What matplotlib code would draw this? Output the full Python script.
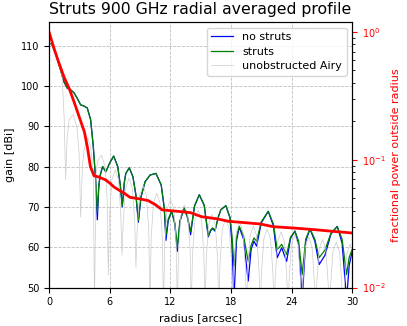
import matplotlib
matplotlib.use('Agg')
import matplotlib.pyplot as plt

# radial profile with and without struts (gain in dBi)
radius = [0.0, 0.3, 0.66, 1.15, 1.48, 1.81, 2.15, 2.47, 2.8, 3.13, 3.46, 3.79,
          4.12, 4.38, 4.62, 4.78, 4.92, 5.04, 5.3, 5.62, 6.03, 6.4, 6.8, 7.05,
          7.25, 7.45, 7.6, 7.94, 8.3, 8.6, 8.84, 9.1, 9.5, 10.0, 10.58, 11.1,
          11.4, 11.57, 11.8, 12.13, 12.45, 12.69, 12.95, 13.35, 13.7, 14.01,
          14.4, 14.87, 15.35, 15.76, 16.0, 16.19, 16.42, 16.75, 17.0, 17.5,
          17.9, 18.1, 18.3, 18.55, 18.82, 19.25, 19.71, 20.0, 20.28, 20.54,
          21.0, 21.69, 22.2, 22.58, 23.02, 23.51, 23.9, 24.33, 24.7, 25.05,
          25.4, 25.82, 26.3, 26.73, 27.3, 27.9, 28.52, 29.0, 29.44, 29.7, 30.0]
gain_struts = [110.5, 110.2, 108.0, 103.9, 101.0, 99.4, 99.0, 98.3, 96.9, 95.3,
               95.0, 94.5, 91.6, 85.0, 76.8, 68.7, 75.0, 77.6, 80.0, 78.7, 81.0,
               82.6, 80.0, 75.5, 70.3, 76.0, 78.3, 79.7, 77.5, 73.0, 66.6, 72.5,
               76.2, 77.9, 78.3, 75.5, 70.0, 63.0, 67.0, 68.9, 66.0, 59.9, 66.5,
               69.75, 67.5, 63.9, 70.3, 73.0, 70.5, 62.9, 64.3, 64.8, 64.2, 67.5,
               69.3, 70.3, 67.5, 63.0, 55.3, 62.5, 65.2, 62.8, 56.5, 60.5, 62.3,
               61.5, 66.3, 68.9, 65.8, 59.4, 60.7, 58.2, 62.5, 64.0, 61.5, 53.2,
               62.0, 64.55, 62.0, 57.4, 59.3, 63.5, 65.15, 62.0, 53.2, 57.5, 59.5]
gain_nostruts = [110.5, 110.2, 108.0, 103.9, 101.0, 99.4, 99.0, 98.3, 96.9, 95.3,
                 95.0, 94.5, 91.6, 85.0, 76.5, 66.8, 74.8, 77.6, 80.0, 78.7, 81.0,
                 82.6, 80.0, 75.4, 70.0, 76.0, 78.3, 79.7, 77.5, 72.8, 66.2, 72.4,
                 76.2, 77.9, 78.3, 75.4, 69.6, 61.7, 66.6, 68.9, 65.8, 59.0, 66.3,
                 69.75, 67.4, 63.1, 70.2, 73.0, 70.4, 62.6, 64.1, 64.6, 64.0, 67.4,
                 69.3, 70.3, 67.3, 61.0, 47.0, 61.5, 65.0, 62.0, 51.6, 59.5, 61.5,
                 60.25, 66.0, 68.9, 65.3, 57.4, 59.85, 56.5, 62.2, 64.0, 60.5, 47.0,
                 61.5, 64.5, 61.5, 55.7, 58.0, 63.3, 65.15, 61.0, 47.0, 55.5, 59.0]

# unobstructed Airy pattern
radius_airy = [0.0, 0.35, 0.7, 1.0, 1.3, 1.5, 1.65, 1.8, 2.0, 2.39, 2.75, 2.98,
               3.13, 3.3, 3.5, 3.82, 4.12, 4.38, 4.5, 4.65, 4.85, 5.19, 5.55, 5.75,
               5.87, 5.99, 6.22, 6.55, 6.88, 7.10,
               7.22, 7.34, 7.57, 7.91, 8.25, 8.48,
               8.60, 8.72, 8.95, 9.30, 9.64, 9.87,
               9.99, 10.11, 10.34, 10.66, 10.99, 11.21,
               11.33, 11.45, 11.68, 12.02, 12.36, 12.58,
               12.70, 12.82, 13.05, 13.39, 13.73, 13.96,
               14.08, 14.20, 14.43, 14.76, 15.09, 15.32,
               15.44, 15.56, 15.79, 16.12, 16.45, 16.68,
               16.80, 16.92, 17.15, 17.49, 17.83, 18.06,
               18.18, 18.30, 18.53, 18.86, 19.19, 19.42,
               19.54, 19.66, 19.89, 20.22, 20.55, 20.78,
               20.90, 21.02, 21.25, 21.59, 21.93, 22.15,
               22.27, 22.39, 22.62, 22.96, 23.30, 23.52,
               23.64, 23.76, 23.99, 24.32, 24.65, 24.88,
               25.00, 25.12, 25.35, 25.69, 26.03, 26.25,
               26.37, 26.49, 26.72, 27.06, 27.40, 27.62,
               27.74, 27.86, 28.09, 28.42, 28.75, 28.98,
               29.10, 29.22, 29.45, 29.79, 30.13, 30.36, 30.47]
gain_airy = [110.5, 110.0, 107.8, 105.0, 102.5, 92.0, 76.8, 87.5, 91.6, 92.9, 90.0, 83.4,
             67.5, 80.0, 84.5, 87.1, 85.0, 78.5, 45.0, 78.0, 81.7, 82.8, 80.1, 72.0,
             53.0, 68.2, 76.7, 79.2, 76.7, 68.2,
             58.0, 66.1, 74.6, 77.1, 74.6, 66.1,
             55.0, 64.3, 72.8, 75.3, 72.8, 64.3,
             45.0, 62.4, 70.9, 73.4, 70.9, 62.4,
             45.0, 60.9, 69.4, 71.9, 69.4, 60.9,
             45.0, 59.5, 68.0, 70.5, 68.0, 59.5,
             45.0, 58.2, 66.7, 69.2, 66.7, 58.2,
             45.0, 57.1, 65.6, 68.1, 65.6, 57.1,
             45.0, 56.1, 64.6, 67.1, 64.6, 56.1,
             45.0, 55.2, 63.7, 66.2, 63.7, 55.2,
             45.0, 54.3, 62.8, 65.3, 62.8, 54.3,
             45.0, 53.5, 62.0, 64.5, 62.0, 53.5,
             45.0, 52.8, 61.3, 63.8, 61.3, 52.8,
             45.0, 52.1, 60.6, 63.1, 60.6, 52.1,
             45.0, 51.5, 60.0, 62.5, 60.0, 51.5,
             45.0, 50.9, 59.4, 61.9, 59.4, 50.9,
             45.0, 50.3, 58.8, 61.3, 58.8, 50.3,
             45.0, 49.8, 58.3, 60.8, 58.3, 49.8, 45.0]

# fractional power outside radius
radius_frac = [0.0, 0.5, 1.0, 1.5, 2.0, 2.5, 3.0, 3.5, 3.8, 4.1, 4.45, 4.95, 5.6,
               6.1, 6.45, 7.0, 7.4, 8.0, 9.0, 9.8, 10.5, 11.2, 12.2, 12.8, 14.0,
               15.1, 16.7, 17.7, 18.9, 20.9, 22.2, 24.2, 26.2, 28.1, 30.0]
frac_outside = [1.0, 0.74, 0.565, 0.44, 0.36, 0.28, 0.215, 0.165, 0.125, 0.088,
                0.075, 0.073, 0.0695, 0.0647, 0.061, 0.0573, 0.055, 0.0508,
                0.0493, 0.0479, 0.0446, 0.0405, 0.0398, 0.0394, 0.0385, 0.0358,
                0.0344, 0.033, 0.0324, 0.0314, 0.0299, 0.0292, 0.0284, 0.0275,
                0.0267]

fig = plt.figure(figsize=(4.07, 3.26), dpi=100)
ax = fig.add_axes([0.1204, 0.118, 0.745, 0.814])

ax.plot(radius, gain_nostruts, color='blue', lw=0.9, label='no struts')
ax.plot(radius, gain_struts, color='green', lw=0.9, label='struts')
ax.plot(radius_airy, gain_airy, color='0.8', lw=0.5, label='unobstructed Airy')
ax.set_xlim(0, 30)
ax.set_ylim(50, 115.8)
ax.set_xticks([0, 6, 12, 18, 24, 30])
ax.set_yticks([50, 60, 70, 80, 90, 100, 110])
ax.grid(True, ls='--', color='0.75', lw=0.6)
ax.set_xlabel('radius [arcsec]', fontsize=8)
ax.set_ylabel('gain [dBi]', fontsize=8)
ax.tick_params(labelsize=7)
ax.set_title('Struts 900 GHz radial averaged profile', fontsize=11.3)
ax.legend(loc='upper right', fontsize=8, labelspacing=0.4, borderpad=0.4,
          handlelength=2.0)

ax2 = ax.twinx()
ax2.semilogy(radius_frac, frac_outside, color='red', lw=2)
ax2.set_ylim(0.01, 1.19)
ax2.set_ylabel('fractional power outside radius', color='red', fontsize=8)
ax2.tick_params('y', colors='red', labelsize=7)

fig.savefig('out.png', dpi=100)
